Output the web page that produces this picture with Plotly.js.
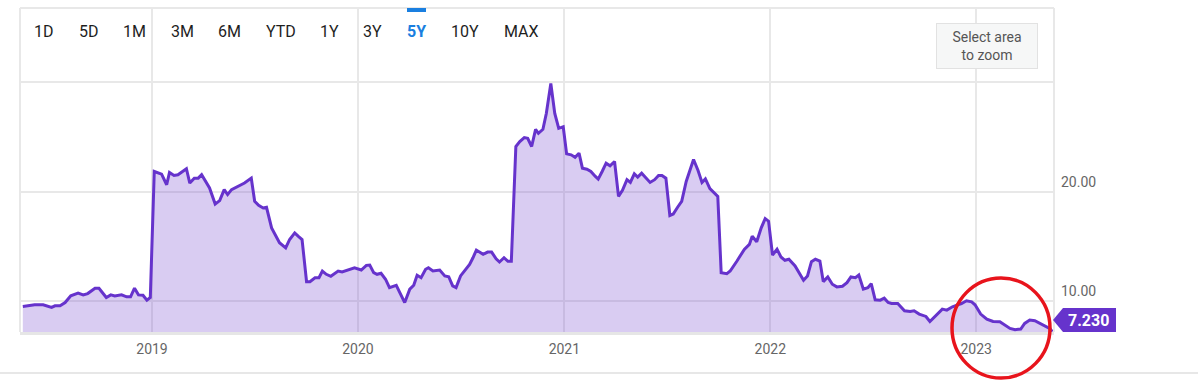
<!DOCTYPE html>
<html>
<head>
<meta charset="utf-8">
<script src="https://cdn.plot.ly/plotly-3.0.1.min.js"></script>
<style>
  html, body { margin: 0; padding: 0; background: #ffffff; }
  #chart { width: 1198px; height: 381px; }
</style>
</head>
<body>
<div id="chart"></div>
<script>
// ---- data (5Y price history) ----
const dates = [
  '2018-05-17','2018-06-07','2018-06-22','2018-07-07','2018-07-13','2018-07-22','2018-07-31','2018-08-10','2018-08-23','2018-09-01',
  '2018-09-09','2018-09-22','2018-09-29','2018-10-12','2018-10-20','2018-10-27','2018-11-08','2018-11-17','2018-11-24','2018-12-01',
  '2018-12-08','2018-12-16','2018-12-23','2018-12-29',
  '2019-01-05','2019-01-18','2019-01-27','2019-02-01','2019-02-09','2019-02-16','2019-03-03','2019-03-09','2019-03-17','2019-03-24',
  '2019-03-30','2019-04-13','2019-04-23','2019-05-01','2019-05-09','2019-05-15','2019-05-22','2019-06-03','2019-06-14','2019-06-26',
  '2019-07-02','2019-07-09','2019-07-17','2019-07-23','2019-08-01','2019-08-15','2019-08-26','2019-09-02','2019-09-11','2019-09-17',
  '2019-09-24','2019-10-02','2019-10-08','2019-10-17','2019-10-24','2019-10-30','2019-11-06','2019-11-14','2019-11-27','2019-12-04',
  '2019-12-18','2019-12-26',
  '2020-01-07','2020-01-16','2020-01-22','2020-01-29','2020-02-04','2020-02-11','2020-02-19','2020-02-26','2020-03-09','2020-03-24',
  '2020-04-02','2020-04-09','2020-04-15','2020-04-22','2020-04-30','2020-05-05','2020-05-13','2020-05-25','2020-06-03','2020-06-10',
  '2020-06-17','2020-06-23','2020-07-01','2020-07-08','2020-07-17','2020-07-23','2020-07-29','2020-08-10','2020-08-18','2020-08-25',
  '2020-09-02','2020-09-08','2020-09-16','2020-09-23','2020-09-29','2020-10-07','2020-10-14','2020-10-22','2020-10-28','2020-11-04',
  '2020-11-11','2020-11-16','2020-11-24','2020-11-30','2020-12-08','2020-12-15','2020-12-22','2020-12-30',
  '2021-01-05','2021-01-13','2021-01-20','2021-01-27','2021-02-02','2021-02-10','2021-02-17','2021-02-25','2021-03-02','2021-03-09',
  '2021-03-16','2021-03-23','2021-03-31','2021-04-07','2021-04-14','2021-04-22','2021-04-28','2021-05-05','2021-05-11','2021-05-18',
  '2021-05-25','2021-06-02','2021-06-10','2021-06-17','2021-06-23','2021-06-30','2021-07-07','2021-07-13','2021-07-21','2021-07-28',
  '2021-08-05','2021-08-18','2021-08-26','2021-09-02','2021-09-08','2021-09-16','2021-09-30','2021-10-06','2021-10-16','2021-10-22',
  '2021-11-03','2021-11-16','2021-11-25','2021-11-30','2021-12-08','2021-12-16','2021-12-23','2021-12-29',
  '2022-01-05','2022-01-13','2022-01-20','2022-01-27','2022-02-03','2022-02-14','2022-03-01','2022-03-08','2022-03-15','2022-03-22',
  '2022-03-30','2022-04-05','2022-04-13','2022-04-21','2022-04-29','2022-05-09','2022-05-17','2022-05-24','2022-06-01','2022-06-07',
  '2022-06-15','2022-06-23','2022-06-29','2022-07-06','2022-07-15','2022-07-22','2022-07-29','2022-08-04','2022-08-15','2022-08-27',
  '2022-09-06','2022-09-13','2022-09-22','2022-10-04','2022-10-11','2022-10-20','2022-11-02','2022-11-10','2022-11-20','2022-11-28',
  '2022-12-06','2022-12-15','2022-12-24','2022-12-30',
  '2023-01-09','2023-01-20','2023-01-31','2023-02-12','2023-02-21','2023-03-02','2023-03-11','2023-03-21','2023-03-28','2023-04-06',
  '2023-04-15','2023-04-24','2023-05-03','2023-05-12','2023-05-16'
];
const prices = [
  9.53, 9.68, 9.68, 9.44, 9.59, 9.59, 9.89, 10.50, 10.75, 10.59,
  10.71, 11.20, 11.20, 10.35, 10.59, 10.50, 10.59, 10.41, 10.41, 11.20,
  10.59, 10.56, 10.11, 10.35,
  21.86, 21.62, 20.65, 21.77, 21.50, 21.56, 22.11, 20.80, 21.25, 21.25,
  21.56, 20.35, 18.89, 19.20, 20.20, 19.75, 20.20, 20.50, 20.80, 21.25,
  19.14, 18.77, 18.53, 18.59, 16.71, 15.35, 14.89, 15.65, 16.25, 15.95,
  15.65, 11.80, 11.80, 12.16, 12.16, 12.77, 12.47, 12.29, 12.77, 12.68,
  12.93, 13.07,
  12.86, 13.29, 13.32, 12.62, 12.47, 12.56, 12.02, 11.25, 11.47, 9.89,
  11.11, 11.47, 12.38, 12.16, 12.93, 13.07, 12.77, 12.86, 12.32, 12.25,
  11.41, 11.25, 12.32, 12.77, 13.38, 13.98, 14.68, 14.29, 14.50, 14.50,
  13.89, 13.59, 13.98, 13.65, 13.65, 24.14, 24.59, 24.95, 24.89, 24.14,
  25.71, 25.35, 25.71, 27.16, 29.90, 27.16, 25.80, 25.95,
  23.47, 23.38, 23.16, 23.53, 22.16, 22.07, 21.86, 21.41, 21.16, 21.86,
  22.62, 22.38, 22.77, 19.59, 20.14, 21.11, 20.86, 21.65, 21.35, 21.71,
  21.35, 20.86, 21.11, 21.50, 21.50, 21.25, 17.84, 17.98, 18.62, 19.14,
  20.95, 22.95, 21.95, 20.86, 21.18, 20.29, 19.59, 12.62, 12.53, 12.77,
  13.68, 14.75, 15.20, 15.95, 15.44, 16.71, 17.56, 17.32,
  14.23, 14.75, 14.05, 13.75, 13.84, 13.23, 11.93, 12.32, 13.62, 13.84,
  13.68, 11.80, 12.23, 11.56, 11.32, 11.38, 11.71, 12.23, 12.16, 12.41,
  11.11, 11.25, 11.62, 10.14, 10.11, 10.29, 9.89, 9.80, 9.80, 9.14,
  9.07, 9.14, 8.84, 8.62, 8.16, 8.59, 9.29, 9.20, 9.50, 9.65,
  9.80, 10.05, 9.95, 9.68,
  8.84, 8.38, 8.16, 8.14, 7.86, 7.53, 7.41, 7.47, 7.98, 8.29,
  8.23, 7.98, 7.75, 7.50, 7.23
];
const lastLabel = '7.230';
const rangeButtons = ['1D','5D','1M','3M','6M','YTD','1Y','3Y','5Y','10Y','MAX'];
const activeButton = '5Y';
const yearTicks = ['2019-01-01','2020-01-01','2021-01-01','2022-01-01','2023-01-01'];
const yearLabels = ['2019','2020','2021','2022','2023'];
const priceTicks = [10, 20, 30];
const priceLabels = ['10.00', '20.00', ''];

// ---- layout helpers (pixel -> paper for decorations) ----
const W = 1198, H = 381, ML = 20, MR = 144, MT = 8, MB = 49;
const PW = W - ML - MR, PH = H - MT - MB;
const px = x => (x - ML) / PW;
const py = y => (H - MB - y) / PH;

const purple = '#6633cc';
const gridC = '#e8e8e8';
const font = 'Roboto, "Open Sans", Arial, sans-serif';

const trace = {
  x: dates, y: prices, type: 'scatter', mode: 'lines',
  line: { color: purple, width: 3, shape: 'linear' },
  fill: 'tozeroy', fillcolor: 'rgba(102,51,204,0.25)',
  hoverinfo: 'skip'
};

const btnX = [44, 88.5, 134, 182, 229.5, 280.5, 329.5, 372.5, 416.5, 464.5, 521];
const annotations = rangeButtons.map((b, i) => ({
  text: b, xref: 'paper', yref: 'paper', x: px(btnX[i]), y: py(31.5),
  xanchor: 'center', yanchor: 'middle', showarrow: false,
  font: { family: font, size: 16, color: b === activeButton ? '#1a7fe0' : '#1e1e1e',
          weight: b === activeButton ? 700 : 400 }
}));
annotations.push({
  text: 'Select area<br>to zoom', xref: 'paper', yref: 'paper',
  x: px(987), y: py(46), xanchor: 'center', yanchor: 'middle', showarrow: false,
  width: 100, height: 44, bgcolor: '#f6f7f7', bordercolor: '#e2e2e2', borderwidth: 1, borderpad: 0,
  font: { family: font, size: 14, color: '#555555' }
});
annotations.push({
  text: '<b>' + lastLabel + '</b>', xref: 'paper', yref: 'paper',
  x: px(1088), y: py(320), xanchor: 'center', yanchor: 'middle', showarrow: false,
  font: { family: font, size: 16, color: '#ffffff' }
});

const shapes = [
  // frame
  { type: 'line', xref: 'paper', yref: 'paper', x0: 0, x1: 0, y0: 0, y1: 1, line: { color: gridC, width: 2 } },
  { type: 'line', xref: 'paper', yref: 'paper', x0: 1, x1: 1, y0: 0, y1: 1, line: { color: gridC, width: 2 } },
  { type: 'line', xref: 'paper', yref: 'paper', x0: 0, x1: 1, y0: 1, y1: 1, line: { color: gridC, width: 2 } },
  // bottom page rule
  { type: 'line', xref: 'paper', yref: 'paper', x0: px(0), x1: px(1198), y0: py(373), y1: py(373), line: { color: '#cfcfcf', width: 1 } },
  // active button bar
  { type: 'rect', xref: 'paper', yref: 'paper', x0: px(407), x1: px(426), y0: py(12), y1: py(8),
    fillcolor: '#1a7fe0', line: { width: 0 } },
  // last value flag
  { type: 'path', xref: 'paper', yref: 'paper',
    path: `M ${px(1053)} ${py(320)} L ${px(1063)} ${py(308)} L ${px(1116)} ${py(308)} L ${px(1116)} ${py(332)} L ${px(1063)} ${py(332)} Z`,
    fillcolor: '#6633cc', line: { width: 0 } },
  // red circle
  { type: 'circle', xref: 'paper', yref: 'paper', layer: 'above',
    x0: px(952), x1: px(1050), y0: py(378), y1: py(278), line: { color: '#e8141c', width: 3.5 } }
];

const layout = {
  width: W, height: H,
  margin: { l: ML, r: MR, t: MT, b: MB, pad: 0 },
  paper_bgcolor: '#ffffff', plot_bgcolor: '#ffffff',
  showlegend: false, hovermode: false,
  font: { family: font },
  xaxis: {
    type: 'date', range: ['2018-05-12', '2023-05-19'],
    tickmode: 'array', tickvals: yearTicks, ticktext: yearLabels,
    showgrid: true, gridcolor: gridC, gridwidth: 2,
    zeroline: false, ticks: '', showline: true, linecolor: '#e6e6e6', linewidth: 3,
    ticklabelstandoff: 2,
    tickfont: { family: font, size: 14, color: '#666666' }, fixedrange: true
  },
  yaxis: {
    side: 'right', range: [7.2, 36.79],
    tickmode: 'array', tickvals: priceTicks, ticktext: priceLabels,
    showgrid: true, gridcolor: gridC, gridwidth: 2, zeroline: false, ticks: '',
    ticklabelposition: 'outside top', ticklabelstandoff: 6,
    tickfont: { family: font, size: 14, color: '#666666' }, fixedrange: true
  },
  annotations: annotations,
  shapes: shapes
};

Plotly.newPlot('chart', [trace], layout, { displayModeBar: false, staticPlot: true });
</script>
</body>
</html>
